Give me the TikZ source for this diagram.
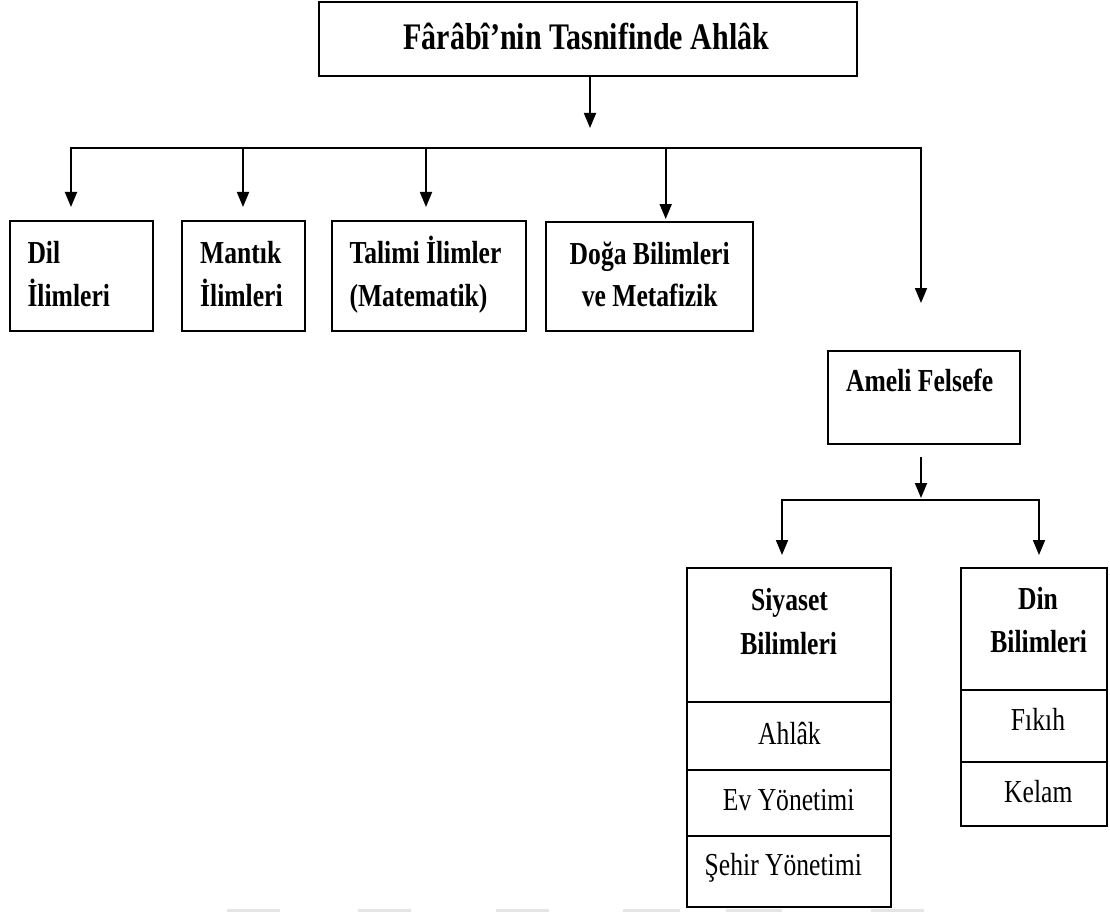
\documentclass[tikz,border=0pt]{standalone}
\usepackage{fontspec}
\setmainfont{Liberation Serif}[FakeStretch=0.8]
\usetikzlibrary{arrows.meta}
\begin{document}
\begin{tikzpicture}[x=1pt,y=-1pt,
  box/.style={draw=black, line width=1.8pt, inner sep=0pt, outer sep=0pt},
  link/.style={line width=1.8pt},
  arr/.style={link, -{Triangle[length=15pt,width=12pt]}},
  hd/.style={font=\fontsize{32}{38}\selectfont\bfseries, inner sep=0pt},
  it/.style={font=\fontsize{32}{38}\selectfont, inner sep=0pt},
  ttl/.style={font=\fontsize{37.5}{44}\selectfont\bfseries, inner sep=0pt},
]
\useasboundingbox (0,0) rectangle (1110,912);
\fill[white] (0,0) rectangle (1110,912);

% title
\node[box, minimum width=538pt, minimum height=74pt] (title) at (588,39) {};
\node[ttl, anchor=base] (titletxt) at (586.3,50) {Fârâbî’nin Tasnifinde Ahlâk};

% first row of boxes
\node[box, minimum width=143pt, minimum height=110pt] (dil) at (81.5,276) {};
\node[box, minimum width=122.7pt, minimum height=110pt] (mantik) at (243.65,276) {};
\node[box, minimum width=194pt, minimum height=110pt] (talimi) at (428.7,276) {};
\node[box, minimum width=207.6pt, minimum height=109pt] (doga) at (649.5,276.5) {};
\node[box, minimum width=191.7pt, minimum height=93pt] (ameli) at (924.2,397.5) {};

\node[hd, anchor=base west] (dil1) at (27.3,263) {Dil};
\node[hd, anchor=base west] (dil2) at (27.3,306.7) {İlimleri};
\node[hd, anchor=base west] (mantik1) at (200,263.3) {Mantık};
\node[hd, anchor=base west] (mantik2) at (200,306) {İlimleri};
\node[hd, anchor=base west] (talimi1) at (349.3,263.3) {Talimi İlimler};
\node[hd, anchor=base west] (talimi2) at (349.3,306) {(Matematik)};
\node[hd, anchor=base] (doga1) at (649.7,264) {Doğa Bilimleri};
\node[hd, anchor=base] (doga2) at (649.7,306.7) {ve Metafizik};
\node[hd, anchor=base] (ameli1) at (919.7,391.7) {Ameli Felsefe};

% second level boxes
\node[box, minimum width=204pt, minimum height=134pt] (siyaset) at (789,635) {};
\node[box, minimum width=204pt, minimum height=68pt] (ahlak) at (789,736) {};
\node[box, minimum width=204pt, minimum height=66pt] (ev) at (789,803) {};
\node[box, minimum width=204pt, minimum height=71pt] (sehir) at (789,871.5) {};
\node[box, minimum width=146pt, minimum height=122pt] (din) at (1034,629) {};
\node[box, minimum width=146pt, minimum height=72pt] (fikih) at (1034,726) {};
\node[box, minimum width=146pt, minimum height=64pt] (kelam) at (1034,794) {};

\node[hd, anchor=base] (siyaset1) at (789.5,610) {Siyaset};
\node[hd, anchor=base] (siyaset2) at (788.7,654.3) {Bilimleri};
\node[hd, anchor=base] (din1) at (1038,609.3) {Din};
\node[hd, anchor=base] (din2) at (1038.7,652.3) {Bilimleri};
\node[it, anchor=base] (ahlak1) at (789.5,744.3) {Ahlâk};
\node[it, anchor=base] (ev1) at (788.7,810.7) {Ev Yönetimi};
\node[it, anchor=base] (sehir1) at (783.3,875) {Şehir Yönetimi};
\node[it, anchor=base] (fikih1) at (1038,730) {Fıkıh};
\node[it, anchor=base] (kelam1) at (1038.3,802.7) {Kelam};

% connectors: title to first row
\coordinate (t0) at (590,128);
\coordinate (busL) at (71,148);
\coordinate (busR) at (921,148);
\coordinate (d1) at (71,207);
\coordinate (d2) at (243,207);
\coordinate (d3) at (426,207);
\coordinate (d4) at (665.7,219);
\coordinate (d5) at (921,303);
\draw[arr] (title.south -| t0) -- (t0);
\draw[link, line cap=rect] (busL) -- (busR);
\draw[arr] (busL) -- (d1);
\draw[arr] (d2 |- busL) -- (d2);
\draw[arr] (d3 |- busL) -- (d3);
\draw[arr] (d4 |- busL) -- (d4);
\draw[arr] (busR) -- (d5);

% connectors: Ameli Felsefe to its branches
\coordinate (a1) at (921,498);
\coordinate (b2L) at (782,500);
\coordinate (b2R) at (1039,500);
\coordinate (s1) at (782,555);
\coordinate (s2) at (1039,555);
\draw[arr] ([yshift=-13pt]ameli.south -| a1) -- (a1);
\draw[link, line cap=rect] (b2L) -- (b2R);
\draw[arr] (b2L) -- (s1);
\draw[arr] (b2R) -- (s2);

% faint marks along the lower edge
\foreach \a/\b in {226.5/279.6, 357.5/410.6, 495.5/548.6, 623/679.6, 725.6/782.2, 870.7/923.8}
  \fill[black!10] (\a,909) rectangle (\b,912);
\end{tikzpicture}
\end{document}
